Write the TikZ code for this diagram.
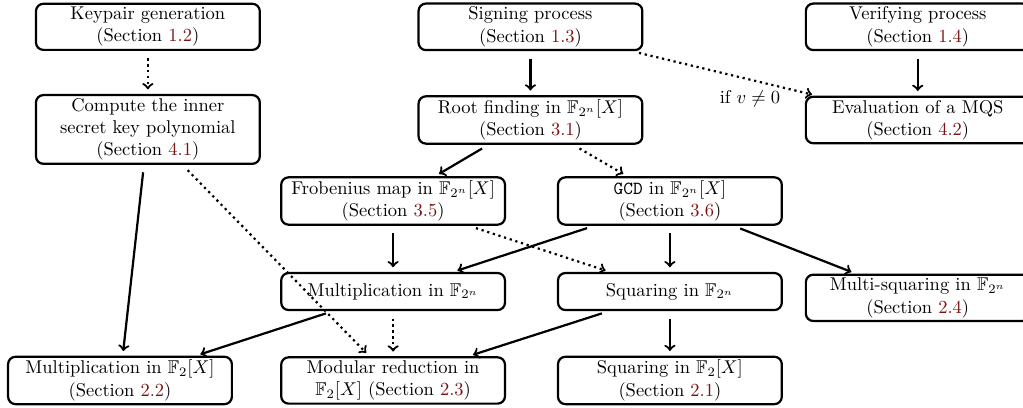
\documentclass[tikz,border=0pt]{standalone}
\usepackage{amsmath,amssymb}
\usepackage{xcolor}
\usepackage{tikz}
\definecolor{secred}{rgb}{0.48,0.08,0.08}
\newcommand{\Sref}[1]{(Section \textcolor{secred}{#1})}
\newcommand{\Ftn}{\mathbb{F}_{2^n}}

\begin{document}
\begin{tikzpicture}[
	box/.style={draw, very thick, rounded corners=4pt, align=center, minimum width=121pt, minimum height=20pt, inner sep=1.8pt},
	arr/.style={->, very thick, shorten <=4pt, shorten >=2.5pt},
	darr/.style={arr, dotted}]
	%%%%% START %%%%%
	\useasboundingbox (0, 0) rectangle (19.44, -7.75);
	
	\node[box] (keypair) at (2.81, -0.51) {Keypair generation\\ \Sref{1.2}};
	\node[box] (signing) at (10.08, -0.51) {Signing process\\ \Sref{1.3}};
	\node[box] (verifying) at (17.44, -0.51) {Verifying process\\ \Sref{1.4}};
	
	\node[box] (inner) at (2.81, -2.46) {Compute the inner\\ secret key polynomial\\ \Sref{4.1}};
	\node[box] (root) at (10.08, -2.28) {Root finding in $\Ftn[X]$\\ \Sref{3.1}};
	\node[box] (eval) at (17.44, -2.28) {Evaluation of a MQS\\ \Sref{4.2}};
	
	\node[box] (frob) at (7.47, -3.82) {Frobenius map in $\Ftn[X]$\\ \Sref{3.5}};
	\node[box] (gcd) at (12.73, -3.82) {\texttt{GCD} in $\Ftn[X]$\\ \Sref{3.6}};
	
	\node[box] (mulF) at (7.47, -5.54) {Multiplication in $\Ftn$};
	\node[box] (sqrF) at (12.73, -5.54) {Squaring in $\Ftn$};
	\node[box] (msqrF) at (17.44, -5.66) {Multi-squaring in $\Ftn$\\ \Sref{2.4}};
	
	\node[box] (mulX) at (2.28, -7.23) {Multiplication in $\mathbb{F}_2[X]$\\ \Sref{2.2}};
	\node[box] (modX) at (7.47, -7.23) {Modular reduction in\\ $\mathbb{F}_2[X]$ \Sref{2.3}};
	\node[box] (sqrX) at (12.73, -7.23) {Squaring in $\mathbb{F}_2[X]$\\ \Sref{2.1}};
	
	\draw[darr] (keypair) -- (inner);
	\draw[arr] (signing) -- (root);
	\draw[arr] (verifying) -- (eval);
	\draw[darr] (signing) -- (eval) node[pos=0.82, below left, inner sep=1pt] {if $v \neq 0$};
	
	\draw[arr] (root) -- (frob);
	\draw[darr] (root) -- (gcd);
	\draw[arr] (inner) -- (mulX);
	\draw[darr] (inner) -- (modX);
	
	\draw[arr] (frob) -- (mulF);
	\draw[darr] (frob) -- (sqrF);
	\draw[arr] (gcd) -- (mulF);
	\draw[arr] (gcd) -- (sqrF);
	\draw[arr] (gcd) -- (msqrF);
	
	\draw[arr] (mulF) -- (mulX);
	\draw[darr] (mulF) -- (modX);
	\draw[arr] (sqrF) -- (modX);
	\draw[arr] (sqrF) -- (sqrX);
	%%%%% END %%%%%
\end{tikzpicture}
\end{document}
